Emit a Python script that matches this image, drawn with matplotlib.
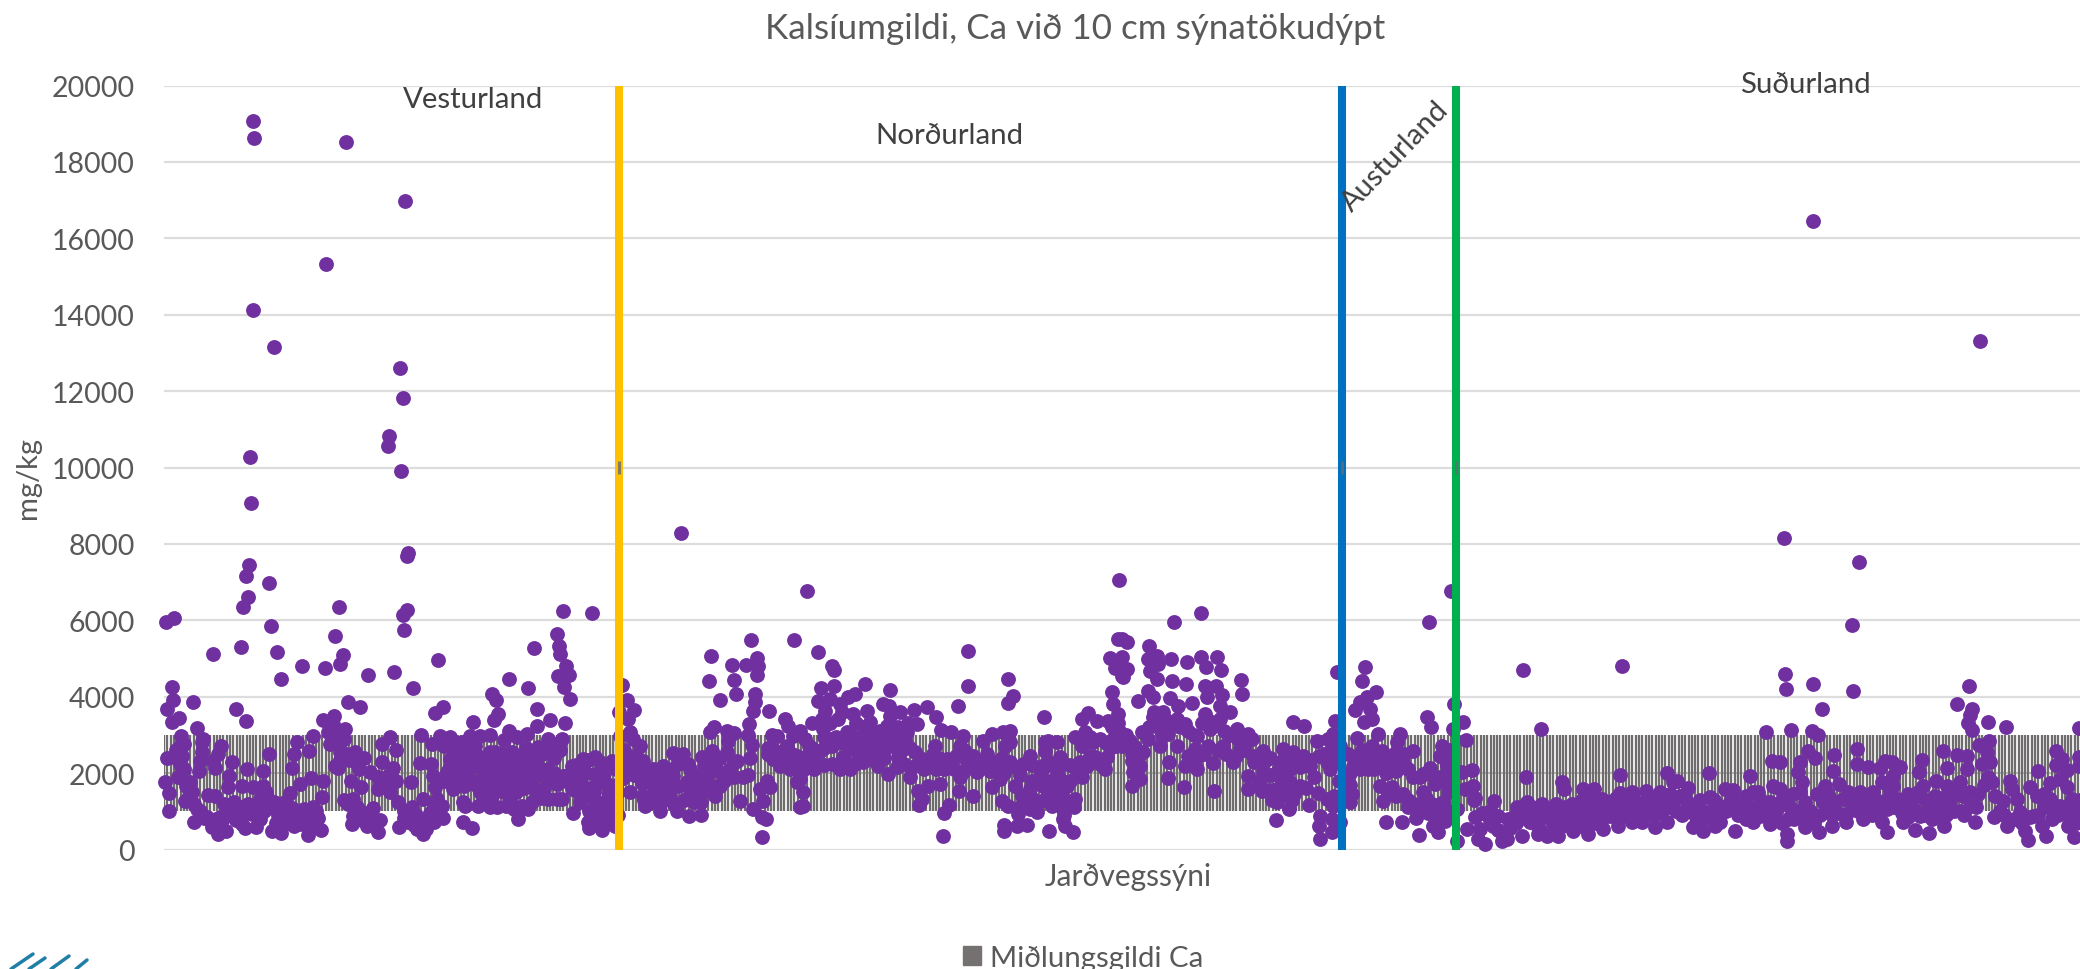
#!/usr/bin/env python3
import numpy as np
import matplotlib
matplotlib.use('Agg')
import matplotlib.pyplot as plt
from matplotlib.lines import Line2D
from matplotlib.patches import Patch

# (sample number, Ca mg/kg)
vesturland = [
    (89,19081),(90,18627),(182,18513),(241,16986),(162,15328),(89,14132),(110,13147),(236,12597),(239,11812),
    (225,10817),(224,10564),(86,10268),(237,9917),(87,9063),(244,7762),(243,7684),(85,7456),(82,7160),(105,6977),
    (84,6618),(79,6340),(175,6349),(399,6244),(428,6192),
    (2,5965),(10,6052),(107,5843),(171,5590),(239,6148),(243,6279),(240,5747),(179,5101),(176,4857),(49,5127),
    (77,5293),(113,5180),(138,4804),(161,4761),(117,4455),(204,4560),(230,4639),(274,4970),(249,4237),(8,4263),
    (9,3905),(3,3679),(29,3853),(15,3452),(8,3330),(72,3687),(82,3364),(184,3853),(196,3740),(279,3740),(271,3565),
    (159,3391),(170,3487),(33,3172),(39,2893),(17,2980),(16,2719),(3,2396),(18,2457),(17,2195),(14,1890),(1,1759),
    (5,1480),(5,1017),(26,1759),(26,1540),(21,1261),(33,1061),(30,711),(38,2806),(38,2544),(35,2064),(36,2326),
    (57,2719),(54,2500),(51,2134),(68,2282),(49,2326),(65,1916),(83,2100),(99,2064),(105,2492),(133,2806),(130,2500),
    (128,2134),(149,2963),(145,2588),(136,1715),(147,1863),(159,1802),(158,1366),(149,1104),(126,1480),(44,1427),
    (51,1410),(64,1628),(78,1671),(89,1628),(99,1671),(96,1323),(103,1366),(76,1104),(63,1061),(79,973),(68,886),
    (56,842),(43,842),(48,580),(54,406),(62,493),(81,554),(92,580),(94,929),(108,493),(117,432),(119,842),(111,1061),
    (121,1235),(133,842),(136,668),(144,388),(157,519),(154,816),(144,886),(166,2763),(164,3068),(169,3286),(181,3155),
    (180,2893),(176,2544),(171,2195),(174,2125),(185,2352),(191,2544),(200,2396),(195,2108),(206,2038),(218,2763),
    (226,2937),(232,2597),(218,2282),(229,2125),(224,1933),(214,1584),(216,1759),(187,1785),(197,1628),(180,1305),
    (189,1323),(193,1104),(209,1078),(189,886),(188,668),(203,624),(216,781),(214,467),(234,1235),(235,580),(248,1104),
    (259,1323),(273,1323),(278,1148),(279,825),(259,406),(253,537),(263,668),(244,711),(247,1776),(256,2265),(267,2239),
    (257,3007),(268,2763),(276,2980),(286,2937),(269,1933),(271,1628),(299,1235),(301,1148),(299,711),(308,554),
    (289,1584),(283,2021),(286,2369),(294,1759),(303,2108),(309,1759),(298,2806),(306,2980),(309,3330),(311,2719),
    (314,1148),(296,2282),(289,2632),(306,2413),(313,2195),
    (393,5642),(395,5337),(396,5119),(370,5276),(402,4796),(405,4569),(394,4534),(400,4246),(406,3940),(345,4455),
    (364,4220),(328,4071),(332,3914),(373,3687),(334,3548),(330,3391),(401,3303),(386,3391),(373,3242),(345,3111),
    (326,3007),(316,2980),(340,2876),(363,3024),(353,2937),(398,2893),(391,2763),(384,2893),(374,2675),(383,2544),
    (331,2562),(348,2544),(359,2457),(323,2369),(336,2282),(353,2195),(366,2239),(376,2108),(384,2108),(321,2021),
    (333,1976),(346,2021),(359,1846),(368,1759),(383,1846),(393,1715),(399,1933),(323,1671),(336,1628),(349,1759),
    (319,1235),(333,1104),(346,1323),(358,1148),(368,1235),(354,807),(384,1323),(393,1323),(408,2195),(419,2369),
    (431,2413),(443,2195),(448,2326),(416,1846),(431,1976),(431,1671),(408,1584),(423,1497),(441,1759),(409,947),
    (416,1235),(433,1235),(449,1235),(424,711),(425,554),(438,519),(439,842),(451,624),(448,929),
    # the packed part of the cloud
    (12,2600),(20,2750),(14,2350),(20,2100),(16,1900),(22,1650),(28,1500),(24,1350),(30,1200),(36,1000),(40,820),
    (46,760),(52,790),(58,780),(66,900),(72,980),(84,1000),(88,930),(72,760),(78,680),(60,1200),(70,1250),(84,1200),
    (94,1100),(100,1000),(96,800),(102,1500),(110,1250),(114,900),(122,980),(128,1080),(124,700),(130,620),(140,1050),
    (148,980),(142,680),(150,660),(112,700),(152,1000),(176,2350),(182,2500),(170,2900),(176,3000),(192,2300),(214,1900),
    (220,1650),(226,1500),(232,1800),(222,1800),(218,1650),(184,1200),(196,1000),(200,950),(206,950),(192,850),(198,760),
    (208,760),(240,1000),(252,900),(258,800),(266,950),(270,1100),(240,820),(250,650),(262,540),(270,720),(280,2700),
    (292,2600),(300,2500),(290,2300),(300,2300),(312,2500),(285,2100),(295,2000),(305,1900),(288,1800),(300,1650),
    (312,1700),(280,1800),(316,2400),(326,2550),(318,2200),(326,2100),(338,2500),(344,2250),(350,2100),(356,2350),
    (362,2650),(368,2500),(372,2350),(378,2500),(386,2650),(390,2400),(396,2600),(318,1850),(328,1850),(340,1850),
    (352,1850),(364,2000),(372,1950),(390,2000),(402,1800),(328,1400),(340,1500),(352,1500),(360,1600),(372,1550),
    (380,1580),(316,1500),(326,1100),(342,1150),(350,1050),(364,1050),(378,1350),(398,1323),(404,1950),(412,2200),
    (424,2350),(436,2300),(410,1900),(422,2000),(440,2000),(452,2100),(452,1700),(414,1500),(428,1350),(444,1350),
    (454,1500),(425,1000),(436,1050),(448,1100),(454,900),(430,800),(442,700),(445,1500),(418,1700),(430,1500),
]

nordurland = [
    (517,8278),(643,6777),(955,7065),(1010,5948),(1037,6183),
    (458,4316),(463,3923),(455,3591),(470,3652),(464,3417),(456,2980),(466,3068),(469,2893),(476,2719),(471,2457),
    (479,2326),(468,2195),(459,1863),(476,2021),(489,2108),(499,2195),(509,2527),(519,2500),(524,2239),(538,2413),
    (548,2588),(563,2544),(573,2326),(546,3068),(550,3198),(563,3111),(570,3050),(564,2850),(547,5075),(545,4403),
    (556,3923),(568,4840),(570,4438),(572,4063),(582,4830),(593,5005),(594,4796),(593,4569),(587,5494),(630,5476),
    (591,4063),(591,3853),(589,3635),(605,3618),(585,3286),(584,3007),(588,2745),(586,2387),(621,3417),(624,3242),
    (608,3007),(613,2980),(604,2649),(629,2980),(609,2369),(616,2195),(626,2108),(623,2719),(633,2457),(633,1759),
    (483,1846),(496,1759),(509,1933),(523,1759),(534,1759),(543,1933),(556,2021),(566,2108),(579,1889),(553,1671),
    (551,1410),(466,1497),(479,1410),(493,1497),(506,1410),(533,1410),(481,1148),(496,1017),(513,1017),(525,868),
    (537,903),(537,1235),(576,1279),(589,1061),(598,842),(602,799),(598,319),(596,1584),(606,1628),(603,1802),
    (599,1279),(636,1104),
    (654,5180),(668,4813),(670,4700),(657,4228),(670,4272),(701,4324),(726,4167),(691,4071),(684,3984),(654,3897),
    (666,3941),(661,3635),(676,3810),(703,3635),(689,3548),(674,3417),(719,3810),(725,3766),(736,3591),(750,3644),
    (763,3722),(772,3461),(753,3286),(726,3504),(723,3242),(648,3312),(658,3417),(659,3155),(683,3068),(706,3330),
    (709,3068),(699,2937),(743,3068),(741,2850),(729,2980),(716,2893),(641,2893),(666,2893),(643,2457),(656,2588),
    (681,2763),(676,2108),(679,2413),(691,2239),(699,2282),(706,2631),(714,2195),(724,1976),(734,2413),(733,2152),
    (751,2544),(746,1889),(754,1541),(764,1671),(776,1715),(758,1323),(755,1165),(785,1174),(780,955),(779,362),
    (795,1523),(809,1410),(828,1628),(836,1846),(851,1671),(838,1279),(844,1148),(854,929),(856,1104),(873,973),
    (869,1323),(866,1584),(888,1130),(899,1061),(911,1323),(899,799),(901,624),(909,450),(885,493),(863,641),(853,624),
    (840,641),(840,476),(777,3120),(787,3068),(799,2980),(771,2719),(783,2369),(761,2326),(769,2195),(796,2719),
    (796,1889),(803,2282),(813,2021),(809,2457),(823,2500),(819,2850),(828,3024),(839,3068),(846,3111),(846,2806),
    (841,2719),(833,2108),(849,2195),(866,2457),(859,2239),(881,2806),(884,2850),(893,2806),(881,2588),(878,2195),
    (896,2413),(893,2021),(876,1933),(903,1671),(889,1628),(879,1671),(913,2021),(923,2195),(941,2108),(943,2413),
    (931,2413),(911,2937),(921,3068),(918,3417),(924,3574),(933,3373),(880,3478),(844,3827),(849,4019),(844,4455),
    (804,4272),(804,5206),(794,3757),(944,3373),(948,4115),(949,3810),(954,3548),(949,2893),(956,3068),(929,2806),
    (946,5023),(951,4752),(954,5511),(958,4552),(769,2500),(636,1846),(639,1497),(639,1130),
    (958,5511),(963,5441),(958,5031),(963,4726),(959,4508),(985,5319),(984,4988),(993,5057),(994,4857),(1007,4988),
    (1023,4909),(1037,5049),(1042,4787),(1053,5031),(1057,4708),(986,4682),(993,4464),(1008,4403),(1022,4333),
    (1041,4272),(1052,4290),(1077,4438),(1078,4063),(1058,4054),(1043,3984),(984,4159),(989,3984),(974,3888),
    (1006,3958),(1028,3827),(1014,3766),(989,3461),(999,3591),(1013,3417),(1021,3286),(1041,3548),(1056,3766),
    (1066,3591),(1056,3417),(1046,3155),(978,3068),(984,2893),(996,3155),(1004,3024),(996,2719),(1013,2719),
    (1033,2980),(1031,2632),(1024,2457),(1044,2719),(1059,2719),(1073,3155),(1084,3024),(1088,2893),(1069,2282),
    (1076,2632),(1089,2457),(1099,2588),(971,2675),(979,2544),(968,2326),(976,2195),(969,2021),(976,1846),(968,1671),
    (1005,2300),(1004,1863),(1020,1637),(1021,2195),(1033,2108),(1049,2265),(1050,1540),(1084,1933),(1084,1584),
    (1098,1540),(1099,2021),(1113,2021),(1119,2632),(1129,2544),(1116,2282),(1139,2457),(1146,2195),(1113,1584),
    (1126,1759),(1136,1671),(1113,1235),(1125,1061),(1145,1174),(1112,781),(1153,2850),(1164,2893),(1171,3373),
    (1129,3347),(1140,3242),(1169,3024),(1173,4656),(1163,2282),(1166,2108),(1154,1480),(1163,1323),(1169,1148),
    (1176,1410),(1156,886),(1155,624),(1168,799),(1168,450),(1156,275),(1176,711),
    # the packed part of the cloud
    (460,2600),(466,2400),(472,2200),(478,2100),(486,1950),(496,1900),(504,2100),(514,2250),(526,2100),(530,1950),
    (540,2200),(548,2250),(556,2400),(570,2300),(462,2150),(470,1950),(478,1750),(490,1600),(502,1600),(514,1650),
    (526,1550),(542,1650),(560,1800),(570,1900),(584,1950),(480,1300),(488,1250),(500,1300),(510,1200),(520,1300),
    (530,1250),(544,1550),(556,1650),(604,2500),(610,2600),(618,2550),(614,2350),(622,2300),(632,2200),(628,2500),
    (636,2350),(640,2100),(636,3100),(645,2700),(650,2300),(660,2650),(668,2700),(672,2950),(650,2100),(648,2650),
    (680,2400),(686,2100),(694,2500),(700,2700),(712,2500),(720,2650),(728,2700),(738,2600),(746,2650),(756,2400),
    (766,2300),(775,2400),(786,2200),(792,2450),(800,2600),(812,2300),(820,2200),(830,2300),(838,2400),(846,2300),
    (856,2150),(868,2200),(880,2150),(884,2300),(898,2250),(906,2200),(916,2300),(926,2450),(936,2250),(946,2650),
    (952,2700),(660,2200),(668,2250),(686,2650),(700,2450),(712,2300),(720,2400),(740,2250),(748,2150),(760,2100),
    (772,2100),(780,2100),(790,2100),(800,2050),(816,2250),(826,2050),(840,2000),(856,1950),(868,1800),(878,1700),
    (886,1800),(896,1850),(906,1800),(918,1900),(660,2950),(690,2950),(700,3200),(716,3100),(734,3200),(744,3300),
    (666,3300),(678,3600),(692,3300),(704,2950),(858,1400),(862,1200),(866,1050),(872,1150),(880,1300),(884,1500),
    (892,1300),(898,1450),(904,1200),(910,1100),(900,900),(918,2700),(926,2950),(936,2900),(942,2800),(948,3200),
    (954,3300),(958,2700),(962,3000),(966,2850),(968,2500),(974,2400),(985,3200),(990,3600),(994,3300),(998,3000),
    (1002,3400),(1008,3300),(1016,3200),(1024,3100),(1030,3000),(1038,3300),(1044,3400),(1050,3300),(1060,3100),
    (1066,3000),(1074,2900),(1082,2800),(1062,2500),(1072,2450),(1080,2600),(1054,2600),(1040,2500),(1032,2400),
    (1026,2300),(1100,2300),(1106,2400),(1124,2350),(1134,2350),(1146,2350),(1155,2450),(1090,2300),(1096,1800),
    (1106,1950),(1116,1900),(1126,2100),(1136,2150),(1096,1650),(1106,1550),(1120,1500),(1130,1450),(1142,1600),
    (1150,1900),(1160,2500),(1168,2600),(1176,2700),(1174,2300),(1175,1800),(1170,1400),(1108,1300),(1116,1400),(1128,1300),
]

austurland = [
    (1265,5948),(1287,6759),(1201,4770),(1198,4420),(1212,4132),(1203,3984),(1196,3853),(1191,3661),(1206,3679),
    (1201,3853),(1208,3417),(1200,3347),(1193,2920),(1214,3024),(1263,3461),(1267,3199),(1236,3024),(1233,2806),
    (1208,2719),(1218,2588),(1196,2369),(1204,2108),(1189,2195),(1186,1235),(1249,2588),(1239,2282),(1223,2195),
    (1234,2195),(1266,2134),(1249,1889),(1259,1976),(1271,1715),(1216,1671),(1228,1628),(1219,1279),(1239,1453),
    (1259,1497),(1244,1104),(1256,1148),(1271,1061),(1222,729),(1238,711),(1252,816),(1255,388),(1269,624),(1274,450),
    (1290,3818),(1289,3155),(1285,2605),(1283,2195),(1282,1759),(1279,1235),(1281,755),
    (1184,2500),(1192,2400),(1198,2600),(1206,2400),(1212,2250),(1220,2400),(1230,2500),(1240,2500),(1186,2000),
    (1196,2100),(1210,2100),(1222,2000),(1232,2050),(1244,2100),(1256,1900),(1264,2000),(1276,1900),(1186,1700),
    (1188,1450),(1224,1450),(1232,1400),(1244,1300),(1250,1200),(1262,1350),(1268,1200),(1276,1200),(1278,1000),
    (1264,950),(1272,800),(1284,1000),(1284,1500),(1286,2050),(1276,2450),(1278,2700),(1280,2400),
]

sudurland = [
    (1649,16465),(1816,13304),(1620,8155),(1695,7534),(1688,5878),(1359,4708),(1458,4804),
    (1299,3347),(1377,3146),(1302,2858),(1298,2021),(1308,2073),(1309,1671),(1301,1584),(1311,1340),(1293,1061),
    (1311,842),(1293,231),(1303,537),(1362,1889),(1398,1776),(1400,1584),(1456,1959),(1503,2003),(1545,2012),(1586,1916),
    (1330,1261),(1326,1017),(1334,886),(1314,275),(1321,144),(1338,231),(1343,275),(1316,537),(1329,624),(1353,1104),
    (1363,1235),(1349,842),(1358,362),(1374,406),(1383,362),(1394,362),(1374,973),(1386,1061),(1401,1104),(1366,711),
    (1389,668),(1413,1104),(1409,493),(1424,406),(1419,1584),(1430,1584),(1438,1322),(1423,1104),(1433,973),(1439,537),
    (1454,624),(1446,886),(1456,1480),(1468,1497),(1482,1541),(1496,1497),(1509,1759),(1513,1802),(1524,1602),(1468,711),
    (1478,711),(1491,580),(1503,711),(1463,1104),(1476,1148),(1493,1235),(1509,1235),(1526,1192),(1529,580),(1539,493),
    (1551,624),(1556,711),(1546,1366),(1534,1061),(1543,973),(1561,1584),(1569,1567),(1566,1235),(1571,493),(1579,973),
    (1589,1497),(1589,711),(1584,1148),(1596,1323),(1596,886),
    (1621,4586),(1622,4194),(1649,4324),(1689,4141),(1658,3687),(1805,4290),(1793,3810),(1808,3679),(1806,3530),
    (1804,3303),(1808,3129),(1824,3338),(1842,3216),(1915,3181),(1602,3068),(1627,3120),(1648,3094),(1654,3007),
    (1693,2632),(1644,2588),(1651,2387),(1670,2483),(1608,2326),(1616,2291),(1636,2300),(1634,2021),(1638,1759),
    (1669,2047),(1693,2248),(1704,2152),(1721,2326),(1728,2282),(1736,2152),(1716,2134),(1729,1933),(1729,1671),
    (1758,2344),(1755,2038),(1779,2579),(1793,2474),(1783,2125),(1803,2457),(1803,2108),(1815,2745),(1825,2832),
    (1823,2544),(1826,2282),(1818,2239),(1824,1889),(1828,1759),(1874,2064),(1892,2570),(1892,2213),(1898,2369),
    (1903,2082),(1915,2413),(1915,2195),(1886,1741),(1896,1846),(1609,1671),(1616,1584),(1629,1453),(1596,1235),
    (1606,1235),(1613,1061),(1626,1104),(1641,1235),(1606,668),(1624,799),(1641,580),(1623,397),(1623,231),(1655,450),
    (1668,624),(1682,711),(1699,799),(1653,1453),(1659,1235),(1661,1671),(1675,1715),(1671,1235),(1679,1323),(1696,1497),
    (1693,1235),(1709,1497),(1718,1759),(1733,1323),(1723,1061),(1718,711),(1723,467),(1709,1061),(1739,711),(1751,511),
    (1765,423),(1780,607),(1756,886),(1749,1323),(1759,1671),(1772,1802),(1771,1410),(1766,1104),(1783,1671),(1796,1759),
    (1799,1410),(1786,1235),(1796,1017),(1773,886),(1812,1104),(1811,711),(1814,1453),(1831,1410),(1839,1261),(1830,842),
    (1843,624),(1846,1802),(1848,1584),(1853,1323),(1856,973),(1861,493),(1864,258),(1866,1628),(1873,1410),(1869,886),
    (1882,362),(1878,624),(1886,1323),(1903,1628),(1908,1323),(1889,973),(1904,624),(1910,319),(1915,1061),(1896,1148),
    # the packed part of the cloud
    (1310,1300),(1318,950),(1326,760),(1334,500),(1340,420),(1346,560),(1352,700),(1358,820),(1364,950),(1370,700),
    (1376,520),(1380,850),(1392,800),(1398,620),(1404,850),(1408,700),(1414,830),(1420,600),(1426,820),(1432,700),
    (1440,850),(1446,1100),(1452,1000),(1458,880),(1464,930),(1470,880),(1476,950),(1484,1000),(1490,880),(1498,1000),
    (1504,1100),(1512,1000),(1518,900),(1524,1000),(1532,850),(1538,780),(1544,850),(1550,1000),(1556,1150),(1562,1000),
    (1568,1100),(1574,900),(1582,800),(1590,1000),(1378,1200),(1392,1200),(1408,1200),(1418,1300),(1426,1350),(1436,1150),
    (1444,1250),(1452,1350),(1460,1300),(1470,1300),(1480,1250),(1488,1350),(1498,1350),(1506,1450),(1516,1400),(1522,1300),
    (1536,1300),(1550,1300),(1574,1250),(1582,1400),(1594,1500),(1344,800),(1356,1000),(1368,1100),(1398,1000),
    (1600,1000),(1606,900),(1612,800),(1618,700),(1630,800),(1634,1000),(1640,900),(1646,800),(1650,700),(1656,900),
    (1662,1000),(1668,900),(1674,950),(1682,900),(1688,1100),(1694,1000),(1702,1000),(1708,900),(1714,1000),(1722,1300),
    (1730,1100),(1738,950),(1744,850),(1752,1000),(1760,900),(1768,800),(1776,1100),(1782,900),(1790,1000),(1800,900),
    (1806,1150),(1618,1300),(1636,1500),(1646,1000),(1664,1450),(1684,1500),(1702,1300),(1716,1250),(1726,1550),(1740,1200),
    (1744,1450),(1754,1500),(1762,1300),(1778,1350),(1790,1450),(1806,1500),(1820,1700),(1836,1000),(1840,900),(1850,800),
    (1858,700),(1866,850),(1874,900),(1880,1100),(1888,800),(1894,900),(1900,1000),(1906,800),(1912,700),(1880,1450),
    (1910,1000),(1916,1300),(1916,800),
]

region_splits = [455, 1178, 1292]
split_colors = ['#FFC000', '#0070C0', '#00B050']
region_labels = ['Vesturland', 'Norðurland', 'Austurland', 'Suðurland']
yticks = list(range(0, 20001, 2000))
band_low = 1000
band_high = 3000
band_mid = 2000
n_samples = 1916


def main():
    plt.rcParams['font.family'] = ['Lato', 'DejaVu Sans']
    fig = plt.figure(figsize=(20.8, 9.7), dpi=100)
    ax = fig.add_axes([164 / 2080, 1 - 850.5 / 970, 1916 / 2080, 764 / 970])

    ax.set_xlim(0, n_samples)
    ax.set_ylim(0, 20000)
    ax.set_yticks(yticks)
    ax.set_xticks([])
    ax.yaxis.grid(True, color='#DDDDDD', linewidth=1.6, zorder=1)
    ax.set_axisbelow(True)
    for side in ax.spines.values():
        side.set_visible(False)
    ax.tick_params(axis='y', length=0, pad=21, labelsize=20.5, labelcolor='#595959')

    # the low/high band, one thin stripe per few samples
    band_x = np.arange(0, n_samples, 3.3)
    ax.vlines(band_x, band_low, band_high, color='#6E6C6C', linewidth=1.65, zorder=2)
    ax.hlines(band_mid, 0, n_samples, color='#6E6C6C', linewidth=1.2, alpha=0.3, zorder=2.5)

    for pts in [vesturland, nordurland, austurland, sudurland]:
        xs, ys = zip(*pts)
        ax.plot(xs, ys, 'o', color='#7030A0', markersize=10.7, markeredgewidth=0, zorder=3, clip_on=False)

    for sx, col in zip(region_splits, split_colors):
        ax.vlines(sx, 0, 20000, color=col, linewidth=5.8, zorder=4)
        ax.vlines(sx, 9840, 10160, color='#666A78', linewidth=2.2, alpha=0.8, zorder=4.5)

    txt = {'fontsize': 21.2, 'color': '#404040', 'ha': 'center', 'va': 'center', 'zorder': 5}
    ax.text(309, 19650, region_labels[0], **txt)
    ax.text(785, 18700, region_labels[1], **txt)
    ax.text(1231, 18156, region_labels[2], rotation=46, rotation_mode='anchor', **txt)
    ax.text(1641, 20040, region_labels[3], **txt)

    fig.text(1075 / 2080, 1 - 29 / 970, 'Kalsíumgildi, Ca við 10 cm sýnatökudýpt',
             fontsize=25.2, color='#595959', ha='center', va='center')
    fig.text(28 / 2080, 1 - 478 / 970, 'mg/kg', fontsize=21, color='#595959',
             rotation=90, ha='center', va='center')
    fig.text(1128 / 2080, 1 - 877 / 970, 'Jarðvegssýni', fontsize=21.5, color='#595959',
             ha='center', va='center')

    handle = Patch(color='#767171', label='Miðlungsgildi Ca')
    fig.legend(handles=[handle], loc='center', bbox_to_anchor=(1083 / 2080, 1 - 959 / 970), frameon=False,
               fontsize=21.2, labelcolor='#595959', handlelength=0.62, handleheight=0.62, handletextpad=0.3,
               borderpad=0, borderaxespad=0)

    # corner of the logo that is cut by the bottom edge
    for x0, y0, x1, y1 in [(11, 970, 33, 955), (29, 970, 45, 959), (51, 970, 69, 957), (76, 970, 87, 961)]:
        fig.add_artist(Line2D([x0 / 2080, x1 / 2080], [1 - y0 / 970, 1 - y1 / 970],
                              color='#1F7FA6', linewidth=2.5, solid_capstyle='round'))

    fig.savefig('out.png', dpi=100)


if __name__ == '__main__':
    main()
